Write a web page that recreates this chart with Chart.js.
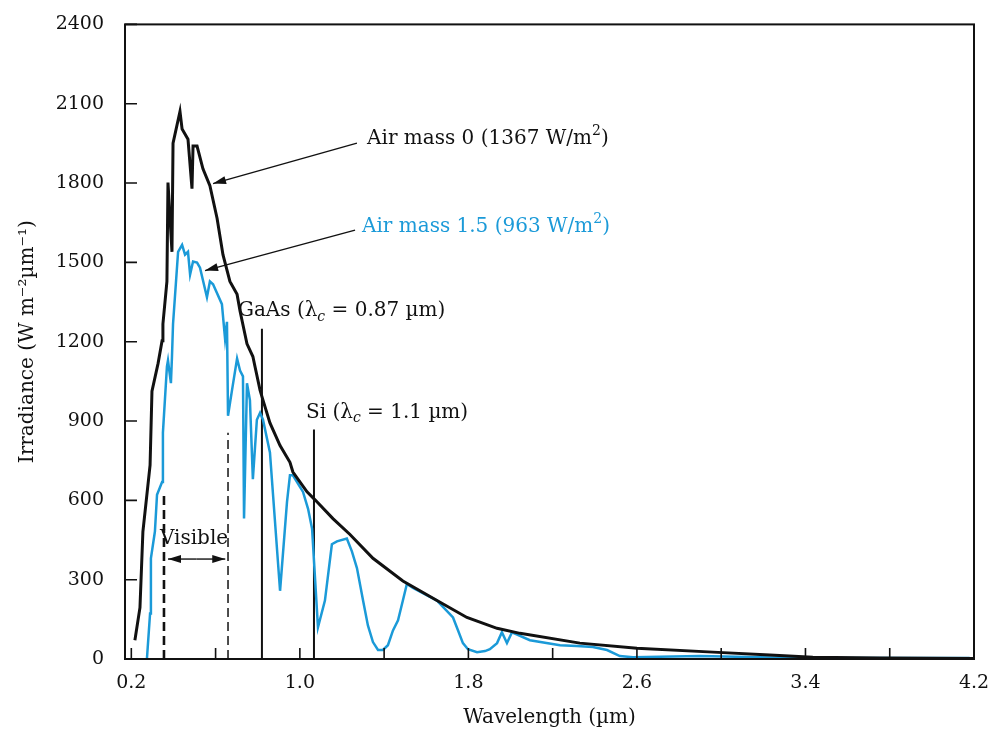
<!DOCTYPE html>
<html>
<head>
<meta charset="utf-8">
<script src="https://cdn.jsdelivr.net/npm/chart.js@4.4.1/dist/chart.umd.min.js"></script>
<style>
  html, body { margin: 0; padding: 0; background: #fff; }
  #wrap { width: 995px; height: 733px; }
</style>
</head>
<body>
<div id="wrap"><canvas id="spectrumChart" width="995" height="733"></canvas></div>
<script>
// values: wavelength (µm) and irradiance (W m-2 µm-1)
const am0Wavelength = [0.217, 0.241, 0.255, 0.289, 0.298, 0.327, 0.346, 0.350, 0.369, 0.374,
  0.393, 0.398, 0.431, 0.441, 0.469, 0.488, 0.493, 0.512, 0.540, 0.573,
  0.607, 0.635, 0.668, 0.702, 0.716, 0.749, 0.777, 0.787, 0.811, 0.825,
  0.858, 0.906, 0.953, 0.967, 1.034, 1.072, 1.157, 1.238, 1.347, 1.489,
  1.651, 1.793, 1.936, 2.045, 2.329, 2.600, 2.961, 3.231, 3.435, 3.753, 4.2];
const am0Irradiance = [71, 194, 482, 733, 1013, 1118, 1204, 1267, 1428, 1802,
  1540, 1951, 2071, 2004, 1966, 1779, 1940, 1940, 1854, 1790,
  1667, 1529, 1428, 1379, 1316, 1192, 1144, 1106, 1017, 979,
  893, 807, 744, 707, 632, 602, 531, 471, 381, 295,
  221, 157, 116, 97, 60, 41, 26, 15, 7, 4, 2];

const am15Wavelength = [0.274, 0.289, 0.293, 0.312, 0.322, 0.346, 0.350, 0.369, 0.374, 0.388,
  0.393, 0.398, 0.422, 0.441, 0.455, 0.469, 0.479, 0.493, 0.512, 0.526,
  0.559, 0.573, 0.588, 0.630, 0.645, 0.654, 0.659, 0.678, 0.702, 0.716,
  0.730, 0.735, 0.749, 0.763, 0.777, 0.796, 0.811, 0.825, 0.858, 0.906,
  0.939, 0.953, 0.967, 1.015, 1.039, 1.058, 1.086, 1.119, 1.152, 1.176,
  1.223, 1.247, 1.271, 1.300, 1.323, 1.347, 1.371, 1.394, 1.418, 1.442,
  1.466, 1.489, 1.508, 1.537, 1.651, 1.727, 1.751, 1.774, 1.798, 1.841,
  1.879, 1.902, 1.936, 1.959, 1.983, 2.007, 2.092, 2.235, 2.315, 2.391,
  2.458, 2.519, 2.581, 2.899, 3.184, 3.374, 4.18];
const am15Irradiance = [0, 172, 381, 482, 621, 669, 856, 1106, 1129, 1043,
  1144, 1267, 1540, 1566, 1529, 1540, 1454, 1503, 1499, 1480,
  1368, 1428, 1417, 1342, 1211, 1275, 920, 1017, 1136, 1091,
  1069, 531, 1043, 979, 680, 905, 931, 905, 781, 258,
  594, 695, 695, 632, 568, 493, 120, 221, 434, 445,
  456, 407, 344, 221, 127, 64, 34, 34, 52, 108,
  146, 221, 284, 269, 221, 157, 108, 60, 37, 26,
  30, 37, 60, 101, 60, 101, 71, 52, 49, 45,
  34, 11, 7, 11, 7, 4, 4];

const xTickValues = [0.2, 0.6, 1.0, 1.4, 1.8, 2.2, 2.6, 3.0, 3.4, 3.8, 4.2];
const xLabelValues = [0.2, 1.0, 1.8, 2.6, 3.4, 4.2];

// marker lines: [wavelength, top of line]
const gaasLine = [0.82, 1249];
const siLine = [1.067, 868];
const visibleLeft = [0.355, 632];
const visibleRight = [0.659, 856];

const BLUE = "#1b9ad8";
const INK = "#111";
const SERIF = "'DejaVu Serif', serif";

const toPoints = (xs, ys) => xs.map((x, i) => ({ x: x, y: ys[i] }));
const vline = v => [{ x: v[0], y: 0 }, { x: v[0], y: v[1] }];

const notes = [
  { x: 1.319, y: 1966, color: INK, parts: [{ t: "Air mass 0 (1367 W/m" }, { t: "2", sup: true }, { t: ")" }] },
  { x: 1.295, y: 1633, color: BLUE, parts: [{ t: "Air mass 1.5 (963 W/m" }, { t: "2", sup: true }, { t: ")" }] },
  { x: 0.706, y: 1316, color: INK, parts: [{ t: "GaAs (λ" }, { t: "c", sub: true }, { t: " = 0.87 µm)" }] },
  { x: 1.029, y: 931, color: INK, parts: [{ t: "Si (λ" }, { t: "c", sub: true }, { t: " = 1.1 µm)" }] },
  { x: 0.336, y: 456, color: INK, parts: [{ t: "Visible" }] }
];
const arrows = [
  { from: [1.271, 1951], to: [0.588, 1798] },
  { from: [1.262, 1622], to: [0.550, 1469] },
  { from: [0.510, 378], to: [0.374, 378], both: [0.646, 378] }
];

function drawParts(ctx, px, py, parts, color) {
  ctx.fillStyle = color;
  ctx.textBaseline = "middle";
  ctx.textAlign = "left";
  let cx = px;
  parts.forEach(p => {
    const small = p.sub || p.sup;
    ctx.font = (p.sub ? "italic " : "") + (small ? 14 : 20) + "px " + SERIF;
    const dy = p.sub ? 6 : p.sup ? -8 : 0;
    ctx.fillText(p.t, cx, py + dy);
    cx += ctx.measureText(p.t).width;
  });
}

function arrowHead(ctx, x0, y0, x1, y1) {
  const a = Math.atan2(y1 - y0, x1 - x0);
  ctx.beginPath();
  ctx.moveTo(x1, y1);
  ctx.lineTo(x1 - 13 * Math.cos(a) + 4 * Math.sin(a), y1 - 13 * Math.sin(a) - 4 * Math.cos(a));
  ctx.lineTo(x1 - 13 * Math.cos(a) - 4 * Math.sin(a), y1 - 13 * Math.sin(a) + 4 * Math.cos(a));
  ctx.closePath();
  ctx.fill();
}

const frame = {
  id: "frame",
  afterDraw(chart) {
    const { ctx, chartArea: a, scales: { x, y } } = chart;
    ctx.save();
    ctx.strokeStyle = INK;
    ctx.lineWidth = 2;
    ctx.strokeRect(a.left, a.top, a.right - a.left, a.bottom - a.top);

    ctx.lineWidth = 1.6;
    ctx.beginPath();
    x.ticks.forEach(t => {
      const px = x.getPixelForValue(t.value);
      ctx.moveTo(px, a.bottom);
      ctx.lineTo(px, a.bottom - 11);
    });
    y.ticks.forEach(t => {
      const py = y.getPixelForValue(t.value);
      ctx.moveTo(a.left, py);
      ctx.lineTo(a.left + 12, py);
    });
    ctx.stroke();

    ctx.fillStyle = INK;
    ctx.lineWidth = 1.4;
    arrows.forEach(ar => {
      const x0 = x.getPixelForValue(ar.from[0]), y0 = y.getPixelForValue(ar.from[1]);
      const x1 = x.getPixelForValue(ar.to[0]), y1 = y.getPixelForValue(ar.to[1]);
      ctx.beginPath();
      ctx.moveTo(x0, y0);
      ctx.lineTo(x1, y1);
      ctx.stroke();
      arrowHead(ctx, x0, y0, x1, y1);
      if (ar.both) {
        const x2 = x.getPixelForValue(ar.both[0]), y2 = y.getPixelForValue(ar.both[1]);
        ctx.beginPath();
        ctx.moveTo(x0, y0);
        ctx.lineTo(x2, y2);
        ctx.stroke();
        arrowHead(ctx, x0, y0, x2, y2);
      }
    });

    notes.forEach(n => {
      drawParts(ctx, x.getPixelForValue(n.x), y.getPixelForValue(n.y), n.parts, n.color);
    });
    ctx.restore();
  }
};

const lineStyle = { showLine: true, pointRadius: 0, tension: 0, fill: false };

new Chart(document.getElementById("spectrumChart"), {
  type: "scatter",
  data: {
    datasets: [
      { ...lineStyle, label: "Air mass 0", data: toPoints(am0Wavelength, am0Irradiance),
        borderColor: INK, borderWidth: 3, order: 0 },
      { ...lineStyle, label: "Air mass 1.5", data: toPoints(am15Wavelength, am15Irradiance),
        borderColor: BLUE, borderWidth: 2.5, order: 1 },
      { ...lineStyle, label: "GaAs", data: vline(gaasLine), borderColor: INK, borderWidth: 2, order: 2 },
      { ...lineStyle, label: "Si", data: vline(siLine), borderColor: INK, borderWidth: 2, order: 2 },
      { ...lineStyle, label: "Visible 1", data: vline(visibleLeft), borderColor: INK,
        borderWidth: 2.6, borderDash: [9, 5], order: 2 },
      { ...lineStyle, label: "Visible 2", data: vline(visibleRight), borderColor: INK,
        borderWidth: 1.5, borderDash: [9, 5], order: 2 }
    ]
  },
  options: {
    responsive: false,
    animation: false,
    devicePixelRatio: 1,
    layout: { padding: { top: 17, right: 21, left: 0, bottom: 0 } },
    plugins: { legend: { display: false }, tooltip: { enabled: false } },
    scales: {
      x: {
        type: "linear",
        min: 0.17,
        max: 4.2,
        afterBuildTicks: s => { s.ticks = xTickValues.map(v => ({ value: v })); },
        afterFit: s => { s.height = 74; },
        grid: { display: false },
        border: { display: false },
        ticks: {
          autoSkip: false,
          maxRotation: 0,
          padding: 5,
          color: INK,
          font: { family: SERIF, size: 19 },
          callback: v => xLabelValues.includes(v) ? v.toFixed(1) : ""
        },
        title: {
          display: true,
          text: "Wavelength (µm)",
          color: INK,
          font: { family: SERIF, size: 20 },
          padding: { top: 0, bottom: 3 }
        }
      },
      y: {
        min: 0,
        max: 2400,
        afterFit: s => { s.width = 125; },
        grid: { display: false },
        border: { display: false },
        ticks: {
          stepSize: 300,
          padding: 13,
          color: INK,
          font: { family: SERIF, size: 19 },
          callback: v => String(v)
        },
        title: {
          display: true,
          text: "Irradiance (W m⁻²µm⁻¹)",
          color: INK,
          font: { family: SERIF, size: 20 },
          padding: { top: 16, bottom: 0 }
        }
      }
    }
  },
  plugins: [frame]
});
</script>
</body>
</html>
